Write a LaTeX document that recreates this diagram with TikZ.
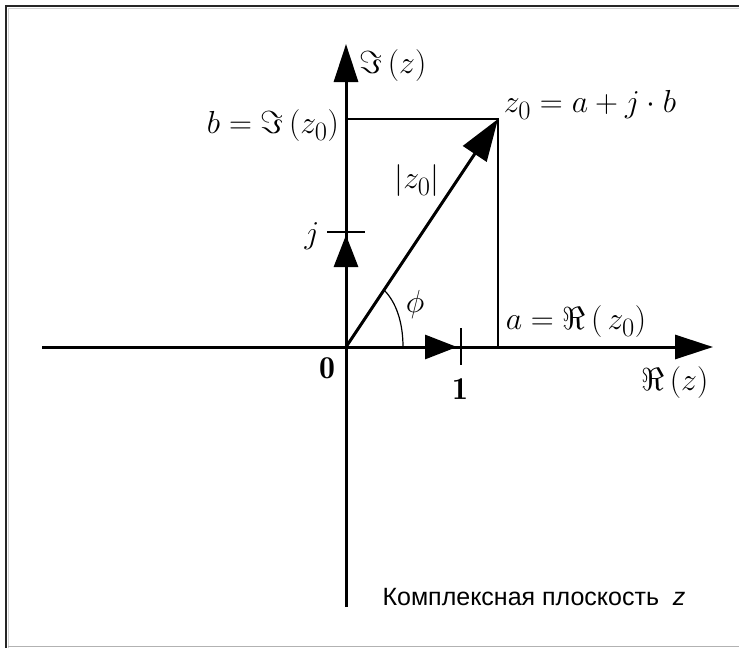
\documentclass[tikz,border=0pt]{standalone}
\usepackage{fontspec}
\newfontfamily\rufont{Liberation Sans}
\usetikzlibrary{arrows.meta}
\newcommand{\lblm}[1]{\scalebox{1.28}{$#1$}}
\begin{document}
\begin{tikzpicture}[x=1pt,y=-1pt,
  axis/.style={line width=3pt,-{Triangle[length=38pt,width=24pt]}},
  unitvec/.style={line width=3pt,-{Triangle[length=32pt,width=24pt]}},
  vec/.style={line width=3pt,-{Triangle[length=42pt,width=28pt]}},
  thinline/.style={line width=1.4pt},
  lbl/.style={inner sep=0pt,font=\fontsize{24.88}{30}\selectfont},
  ]
\useasboundingbox (0,0) rectangle (739,648);
\fill[white] (0,0) rectangle (739,648);
% frame
\draw[line width=2pt, black!85] (6,648) -- (6,6) -- (739,6);
\draw[line width=1pt, gray!35] (8.5,648) -- (8.5,8.5) -- (739,8.5);
\draw[line width=1.5pt, gray!60] (8,646.5) -- (739,646.5);

\coordinate (O) at (346,347);
\coordinate (xs) at (42,347);
\coordinate (xe) at (713,347);
\coordinate (ys) at (346,607);
\coordinate (ye) at (346,44);
\coordinate (Z) at (498,119);
\coordinate (B) at (346,119);
\coordinate (A) at (498,347);
\coordinate (u1) at (457,347);
\coordinate (uj) at (346,235);
\coordinate (t1a) at (461,328);
\coordinate (t1b) at (461,365);
\coordinate (tja) at (327,232);
\coordinate (tjb) at (365,232);
\coordinate (arcA) at (403,347);
\coordinate (arcB) at (384,290);

% projections
\draw[thinline] (B) -- (Z) -- (A);
% ticks
\draw[thinline] (t1a) -- (t1b);
\draw[thinline] (tja) -- (tjb);
% angle
\draw[line width=1.2pt] (arcA) .. controls (403,322) and (396,302) .. (arcB);
% axes
\draw[axis] (xs) -- (xe);
\draw[axis] (ys) -- (ye);
% unit vectors
\draw[unitvec] (O) -- (u1);
\draw[unitvec] (O) -- (uj);
% z0 vector
\draw[vec] (O) -- (Z);

% labels
\node[lbl] (Im) at (393,66) {\lblm{\Im\,(z)}};
\node[lbl] (bl) at (273,126) {\lblm{b=\Im\,(z_0)}};
\node[lbl] (zl) at (590,105) {\lblm{z_0=a+j\cdot b}};
\node[lbl] (mod) at (417,181) {\lblm{|z_0|}};
\node[lbl] (jl) at (312,236) {\lblm{j}};
\node[lbl] (phi) at (415,305) {\lblm{\phi}};
\node[lbl] (al) at (576,322) {\lblm{a=\Re\,(\,z_0)}};
\node[lbl] (zero) at (327,368) {\lblm{\mathbf{0}}};
\node[lbl] (one) at (460,389) {\lblm{\mathbf{1}}};
\node[lbl] (Re) at (675,383) {\lblm{\Re\,(z)}};
\node[inner sep=0pt, font=\rufont\fontsize{25}{30}\selectfont] (cap) at (534,597) {Комплексная плоскость \ \textit{z}};
\end{tikzpicture}
\end{document}
